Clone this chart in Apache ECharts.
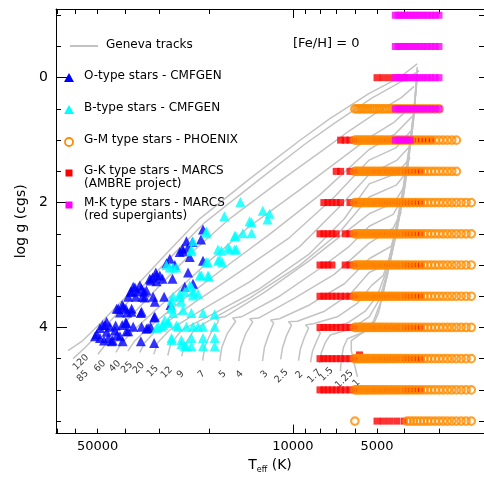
<!DOCTYPE html>
<html><head><meta charset="utf-8">
<script src="https://cdn.jsdelivr.net/npm/echarts@6.0.0/dist/echarts.min.js"></script>
<style>html,body{margin:0;padding:0;background:#fff}#c{width:484px;height:479px}</style>
</head><body><div id="c"></div>
<script>
// ---------- axes ----------
const teffRange = [2070, 70500];
const loggRange = [-1.1, 5.7];
const xTickTeff = [70000,60000,50000,40000,30000,20000,9000,8000,7000,6000,5000,4000,3000];
const xMajorTickTeff = [10000];
const xLabelTeff = [50000,10000,5000];
const yTickLogg = [-1,-0.5,0,0.5,1,1.5,2,2.5,3,3.5,4,4.5,5,5.5];
const yLabelLogg = [0,2,4];

// ---------- O-type stars (CMFGEN) [Teff, logg] ----------
const oStars = [
[24060,2.62],[22900,2.63],[21330,2.59],[24860,2.74],[23740,2.72],[25420,2.79],[23410,2.87],[27590,2.90],[28360,2.97],[26480,3.00],
[30970,3.12],[31820,3.20],[29960,3.17],[29310,3.22],[32340,3.25],[30790,3.26],[26990,3.22],[37320,3.35],[35310,3.33],[38120,3.43],
[36110,3.42],[34090,3.43],[34550,3.51],[36490,3.51],[38890,3.51],[31660,3.51],[28920,3.51],[27430,3.64],[42780,3.70],[40850,3.64],
[39630,3.70],[37790,3.70],[39210,3.76],[41620,3.76],[35030,3.77],[31400,3.84],[46440,3.91],[47990,3.96],[45190,3.99],[43120,3.97],
[40850,3.96],[39720,3.92],[37320,3.99],[34830,3.99],[33450,4.02],[32340,3.99],[50410,4.11],[49060,4.17],[47470,4.21],[51100,4.14],
[44190,4.21],[42570,4.12],[40710,4.22],[35030,4.22],[31400,4.25],[39420,4.06],[46440,4.07],[43370,4.05],
[20990,2.43],[24740,2.78],[20990,2.93],[23740,3.12],[24390,3.35],[22790,3.30],[49060,4.01],[47080,3.96],[45800,4.17],[44540,4.22],
[42210,3.70],[40520,3.67],[36790,3.36],[34830,3.38],[37790,3.43],[33450,3.41],[33890,3.52],[31220,3.59],[32530,3.22],[37790,3.75],
[34830,3.75],[31220,3.83],[39420,3.93],[33000,4.01],[41620,4.14],[38880,4.06],[30790,3.17]
];

// ---------- B-type stars (CMFGEN) [Teff, logg] ----------
const bStars = [
[17600,2.22],[15420,1.99],[12820,2.13],[12120,2.18],[12330,2.27],[14060,2.32],[14290,2.30],[15110,2.49],[14060,2.49],[16040,2.53],[17090,2.72],
[16170,2.75],[18040,2.77],[18550,2.93],[20140,2.96],[17900,2.96],[21560,3.17],[19990,3.19],[20410,2.49],[22790,2.62],[23100,2.78],
[26120,3.04],[27590,3.04],[24390,3.43],[23410,3.33],[22790,3.43],[25420,3.46],[25080,3.59],[27190,3.70],[27190,3.57],[24740,3.72],
[23100,3.77],[20990,3.77],[19060,3.79],[27980,3.93],[29470,3.99],[26120,3.97],[24060,3.99],[22790,3.99],[21870,3.99],[20990,3.99],
[19060,3.99],[27190,4.17],[25080,4.27],[24060,4.30],[23100,4.30],[23100,4.17],[20990,4.17],[20990,4.30],[19060,4.17],[19060,4.30],
[30790,4.01],[30370,3.99],[29150,3.96],[27190,4.20],[25080,4.20],[24390,4.30],[25760,3.99],[26850,3.77],[28750,3.88],[27980,3.91],
[26850,3.51],[25420,3.51],[27190,3.67],[23100,3.35],[22790,3.49],[21870,3.46],[21270,3.17],[20140,3.17],[26850,3.04],[28360,3.00],
[23100,2.75],[20410,2.95],[20410,2.46],[18550,2.75],[18290,2.91],[16170,2.54],[16850,2.75],[15950,2.75]
];

// ---------- PHOENIX grid (G-M) ----------
const phoenixTeff = [6000,5900,5800,5700,5600,5500,5400,5300,5200,5100,5000,4900,4800,4700,4600,4500,4400,4300,4200,4100,
  4000,3900,3800,3700,3600,3500,3400,3300,3200,3100,3000,2900,2800,2700,2600,2500,2400,2300];
// [logg, Teff min, Teff max]
const phoenixRows = [[0.5,3000,6000],[1.0,2600,6000],[1.5,2600,6000],[2.0,2300,6000],[2.5,2300,6000],[3.0,2300,6000],
  [3.5,2300,6000],[4.0,2300,6000],[4.5,2300,6000],[5.0,2300,6000],[5.5,2300,3900]];
const phoenixExtra = [[6000,5.5]];

// ---------- MARCS AMBRE grid (G-K) ----------
const ambreTeff = [8000,7750,7500,7250,7000,6750,6500,6250,6000,5750,5500,5250,5000,4750,4500,4250,4000,
  3900,3800,3700,3600,3500,3400,3300,3200];
const ambreRows = [[0,4000,5000],[1.0,3200,6750],[1.5,3500,7000],[2.0,3500,7750],[2.5,3500,8000],[3.0,3500,8000],
  [3.5,3500,8000],[4.0,3500,8000],[4.5,3500,8000],[5.0,3500,8000],[5.5,4000,5000]];
const ambreMissing = [[1.5,6500],[2.0,6500],[2.5,6750],[3.0,7000],[3.0,6750]];
const ambreExtra = [[5777,4.44]];

// ---------- MARCS red supergiants (M-K) ----------
const rsgTeff = [4300,4200,4100,4000,3900,3800,3700,3600,3500,3400,3300,3200,3100,3000];
const rsgRows = [[-1,3000,4300],[-0.5,3000,4300],[0,3000,4300],[0.5,3000,4300],[1.0,3800,4300]];

// ---------- Geneva tracks [log Teff, logg] ----------
const trackMasses = ['120','85','60','40','25','20','15','12','9','7','5','4','3','2.5','2','1.7','1.5','1.25','1'];
const trk120 = [[4.805,4.37],[4.752,4.21],[4.691,3.94],[4.566,3.36],[4.441,2.76],[4.334,2.26],[4.155,1.62],[3.977,1.01],[3.869,0.66],[3.727,0.25],[3.619,0.00],[3.555,-0.22]];
const trk85 = [[4.787,4.50],[4.741,4.31],[4.677,4.01],[4.548,3.39],[4.423,2.81],[4.316,2.32],[4.137,1.69],[3.959,1.07],[3.852,0.73],[3.719,0.33],[3.619,0.08],[3.548,-0.11]];
const trk60 = [[4.698,4.43],[4.669,4.26],[4.612,3.97],[4.477,3.33],[4.352,2.76],[4.227,2.26],[4.048,1.66],[3.905,1.20],[3.798,0.85],[3.698,0.55],[3.612,0.32],[3.566,0.14]];
const trk40 = [[4.634,4.40],[4.612,4.24],[4.562,4.01],[4.423,3.44],[4.298,2.93],[4.155,2.38],[3.977,1.80],[3.834,1.32],[3.727,0.96],[3.637,0.71],[3.577,0.46]];
const trk25 = [[4.591,4.38],[4.569,4.23],[4.519,4.01],[4.387,3.53],[4.244,3.04],[4.084,2.51],[3.905,1.88],[3.727,1.15],[3.634,0.90],[3.573,0.62]];
const trk20 = [[4.548,4.40],[4.530,4.24],[4.484,4.02],[4.352,3.60],[4.191,3.11],[4.012,2.56],[3.852,1.91],[3.727,1.32],[3.630,1.12],[3.577,0.85]];
const trk15 = [[4.498,4.43],[4.484,4.24],[4.441,4.04],[4.316,3.69],[4.155,3.27],[3.977,2.71],[3.834,2.07],[3.727,1.55],[3.627,1.32],[3.580,1.09]];
const trk12 = [[4.448,4.45],[4.437,4.26],[4.398,4.04],[4.280,3.77],[4.119,3.38],[3.941,2.82],[3.816,2.26],[3.727,1.70],[3.627,1.53],[3.580,1.28]];
const trk9 = [[4.398,4.46],[4.387,4.27],[4.355,4.05],[4.316,3.93],[4.155,3.53],[3.977,3.01],[3.834,2.48],[3.727,1.91],[3.630,1.72],[3.584,1.47]];
const trk7 = [[4.323,4.53],[4.316,4.31],[4.294,4.09],[4.266,3.90],[4.277,3.85],[4.244,3.83],[4.102,3.44],[3.941,2.93],[3.816,2.49],[3.727,2.18],[3.637,2.00],[3.602,1.75]];
const trk5 = [[4.262,4.54],[4.255,4.32],[4.234,4.09],[4.205,3.90],[4.216,3.85],[4.184,3.83],[4.048,3.50],[3.905,3.06],[3.798,2.70],[3.727,2.38],[3.641,2.19],[3.605,1.91]];
const trk4 = [[4.194,4.54],[4.187,4.32],[4.169,4.10],[4.144,3.91],[4.155,3.86],[4.123,3.85],[3.994,3.53],[3.852,3.15],[3.727,2.65],[3.641,2.41],[3.612,2.15]];
const trk3 = [[4.109,4.54],[4.102,4.32],[4.087,4.12],[4.069,3.93],[4.080,3.88],[4.048,3.86],[3.941,3.64],[3.816,3.30],[3.727,2.90],[3.648,2.70],[3.627,2.38],[3.605,1.91],[3.584,1.28]];
const trk2p5 = [[4.044,4.51],[4.037,4.32],[4.023,4.13],[4.005,3.96],[4.016,3.91],[3.984,3.90],[3.887,3.74],[3.791,3.45],[3.727,3.12],[3.662,2.98],[3.641,2.70],[3.619,2.22],[3.598,1.59],[3.577,0.96],[3.562,0.33]];
const trk2 = [[3.980,4.53],[3.973,4.34],[3.959,4.16],[3.944,4.01],[3.955,3.96],[3.927,3.94],[3.841,3.83],[3.769,3.61],[3.719,3.33],[3.677,3.17],[3.655,2.89],[3.630,2.38],[3.605,1.75],[3.584,1.12],[3.566,0.49],[3.555,0.02]];
const trk1p7 = [[3.937,4.56],[3.930,4.38],[3.916,4.23],[3.902,4.09],[3.912,4.04],[3.887,4.02],[3.805,3.93],[3.741,3.74],[3.698,3.49],[3.669,3.14],[3.644,2.70],[3.619,2.15],[3.594,1.51],[3.573,0.80],[3.559,0.17]];
const trk1p5 = [[3.905,4.57],[3.898,4.40],[3.884,4.24],[3.866,4.12],[3.791,4.02],[3.727,3.83],[3.691,3.56],[3.666,3.17],[3.641,2.70],[3.616,2.10],[3.591,1.44],[3.569,0.73],[3.555,-0.06]];
const trk1p25 = [[3.830,4.70],[3.827,4.51],[3.819,4.32],[3.805,4.18],[3.755,4.09],[3.712,3.90],[3.687,3.61],[3.662,3.17],[3.637,2.62],[3.609,1.99],[3.587,1.31],[3.569,0.65],[3.555,-0.14]];
const trk1 = [[3.769,4.79],[3.780,4.59],[3.791,4.37],[3.791,4.21],[3.762,4.12],[3.716,3.99],[3.694,3.77],[3.677,3.45],[3.655,3.01],[3.630,2.51],[3.605,1.91],[3.584,1.25],[3.566,0.57],[3.555,-0.17]];
const tracks = [trk120,trk85,trk60,trk40,trk25,trk20,trk15,trk12,trk9,trk7,trk5,trk4,trk3,trk2p5,trk2,trk1p7,trk1p5,trk1p25,trk1];
// mass label anchor [log Teff, logg]
const massLabelPos = [[4.759,4.56],[4.752,4.78],[4.691,4.62],[4.637,4.62],[4.594,4.64],[4.552,4.65],[4.502,4.70],[4.452,4.72],
  [4.402,4.75],[4.327,4.75],[4.252,4.75],[4.191,4.75],[4.102,4.75],[4.041,4.78],[3.977,4.76],[3.923,4.78],[3.880,4.75],[3.816,4.83],[3.773,4.89]];

// ---------- build ----------
const L = Math.log10;
function gridPoints(teffList, rows, missing) {
  const out = [];
  rows.forEach(function (r) {
    teffList.forEach(function (t) {
      if (t >= r[1] && t <= r[2] && !missing.some(function (m) { return m[0] === r[0] && m[1] === t; })) out.push([L(t), r[0]]);
    });
  });
  return out;
}
const toLog = function (arr) { return arr.map(function (p) { return [L(p[0]), p[1]]; }); };

const FONT = 'DejaVu Sans';
const xMin = L(teffRange[0]), xMax = L(teffRange[1]);

function xAx(pos, ticks, len, labels, line, extra) {
  return Object.assign({
    type: 'value', position: pos, min: xMin, max: xMax, inverse: true, gridIndex: 0,
    axisLine: { show: line, onZero: false, lineStyle: { color: '#000', width: 1 } },
    axisTick: { show: true, inside: true, length: len, customValues: ticks.map(L), lineStyle: { color: '#000', width: 1 } },
    axisLabel: { show: labels, customValues: xLabelTeff.map(L), formatter: function (v) { return String(Math.round(Math.pow(10, v))); },
      fontFamily: FONT, fontSize: 13, color: '#000', margin: 7 },
    splitLine: { show: false }
  }, extra || {});
}
function yAx(pos, ticks, len, labels, line, extra) {
  return Object.assign({
    type: 'value', position: pos, min: loggRange[0], max: loggRange[1], inverse: true, gridIndex: 0,
    axisLine: { show: line, onZero: false, lineStyle: { color: '#000', width: 1 } },
    axisTick: { show: true, inside: true, length: len, customValues: ticks, lineStyle: { color: '#000', width: 1 } },
    axisLabel: { show: labels, customValues: yLabelLogg, fontFamily: FONT, fontSize: 14, color: '#000', margin: 8 },
    splitLine: { show: false }
  }, extra || {});
}

const series = [];
tracks.forEach(function (t, i) {
  series.push({ type: 'line', name: 'track ' + trackMasses[i], data: t, symbol: 'none', showSymbol: false, silent: true,
    lineStyle: { color: '#c3c3c3', width: 1.5 }, z: 1, animation: false });
});
series.push({ type: 'scatter', name: 'mass labels', silent: true, symbolSize: 0, z: 2,
  data: massLabelPos.map(function (p, i) { return [p[0], p[1], trackMasses[i]]; }),
  label: { show: true, position: 'inside', rotate: 45, fontFamily: FONT, fontSize: 9.5, color: '#000',
    formatter: function (p) { return p.data[2]; } } });
series.push({ type: 'scatter', name: 'G-K type stars - MARCS', silent: true, symbol: 'rect', symbolSize: [7, 7], z: 3,
  data: gridPoints(ambreTeff, ambreRows, ambreMissing).concat(toLog(ambreExtra)), itemStyle: { color: '#ff0000' } });
series.push({ type: 'scatter', name: 'G-M type stars - PHOENIX', silent: true, symbol: 'circle', symbolSize: 7.5, z: 4,
  data: gridPoints(phoenixTeff, phoenixRows, []).concat(toLog(phoenixExtra)),
  itemStyle: { color: 'rgba(0,0,0,0)', borderColor: '#ff8c00', borderWidth: 2.2 } });
series.push({ type: 'scatter', name: 'M-K type stars - MARCS', silent: true, symbol: 'rect', symbolSize: [7, 7], z: 5,
  data: gridPoints(rsgTeff, rsgRows, []), itemStyle: { color: '#ff00ff' } });
series.push({ type: 'scatter', name: 'O-type stars - CMFGEN', silent: true, symbol: 'triangle', symbolSize: 10, z: 6,
  data: toLog(oStars), itemStyle: { color: '#0000ff' } });
series.push({ type: 'scatter', name: 'B-type stars - CMFGEN', silent: true, symbol: 'triangle', symbolSize: 10, z: 7,
  data: toLog(bStars), itemStyle: { color: '#00ffff' } });

function txt(x, y, s, size) {
  return { type: 'text', x: x, y: y, silent: true, z: 100,
    style: { text: s, font: (size || 12) + 'px "' + FONT + '"', fill: '#000', align: 'left', verticalAlign: 'middle',
      textAlign: 'left', textVerticalAlign: 'middle' } };
}
const graphic = [
  { type: 'line', shape: { x1: 70, y1: 46, x2: 98, y2: 46 }, style: { stroke: '#c3c3c3', lineWidth: 2 }, z: 100 },
  txt(106, 45, 'Geneva tracks'),
  { type: 'polygon', shape: { points: [[69, 73], [74, 82], [64, 82]] }, style: { fill: '#0000ff' }, z: 100 },
  txt(84, 76, 'O-type stars - CMFGEN'),
  { type: 'polygon', shape: { points: [[69, 105], [74, 114], [64, 114]] }, style: { fill: '#00ffff' }, z: 100 },
  txt(84, 108, 'B-type stars - CMFGEN'),
  { type: 'circle', shape: { cx: 69, cy: 142, r: 4 }, style: { fill: 'none', stroke: '#ff8c00', lineWidth: 1.8 }, z: 100 },
  txt(84, 140, 'G-M type stars - PHOENIX'),
  { type: 'rect', shape: { x: 65.5, y: 169.5, width: 7, height: 7 }, style: { fill: '#ff0000' }, z: 100 },
  txt(84, 171, 'G-K type stars - MARCS'),
  txt(84, 184, '(AMBRE project)'),
  { type: 'rect', shape: { x: 65.5, y: 201.5, width: 7, height: 7 }, style: { fill: '#ff00ff' }, z: 100 },
  txt(84, 203, 'M-K type stars - MARCS'),
  txt(84, 216, '(red supergiants)'),
  txt(293, 44, '[Fe/H] = 0', 13)
];

const chart = echarts.init(document.getElementById('c'), null, { renderer: 'canvas' });
chart.setOption({
  animation: false,
  backgroundColor: '#fff',
  grid: { left: 56, top: 9, width: 429, height: 431, containLabel: false },
  xAxis: [
    xAx('bottom', xTickTeff, 5, true, true, {
      name: '{t|T}{s|eff}{t| (K)}', nameLocation: 'middle', nameGap: 20,
      nameTextStyle: { rich: { t: { fontFamily: FONT, fontSize: 14, color: '#000' },
        s: { fontFamily: FONT, fontSize: 8, color: '#000', padding: [9, 0, 0, 0] } } } }),
    xAx('bottom', xMajorTickTeff, 9, false, false),
    xAx('top', xTickTeff, 5, false, true),
    xAx('top', xMajorTickTeff, 9, false, false)
  ],
  yAxis: [
    yAx('left', yTickLogg, 5, true, true, { name: 'log g (cgs)', nameLocation: 'middle', nameGap: 23,
      nameTextStyle: { fontFamily: FONT, fontSize: 14, color: '#000' } }),
    yAx('left', yLabelLogg, 11, false, false),
    yAx('right', yTickLogg, 5, false, true)
  ],
  graphic: graphic,
  series: series
});
</script></body></html>
